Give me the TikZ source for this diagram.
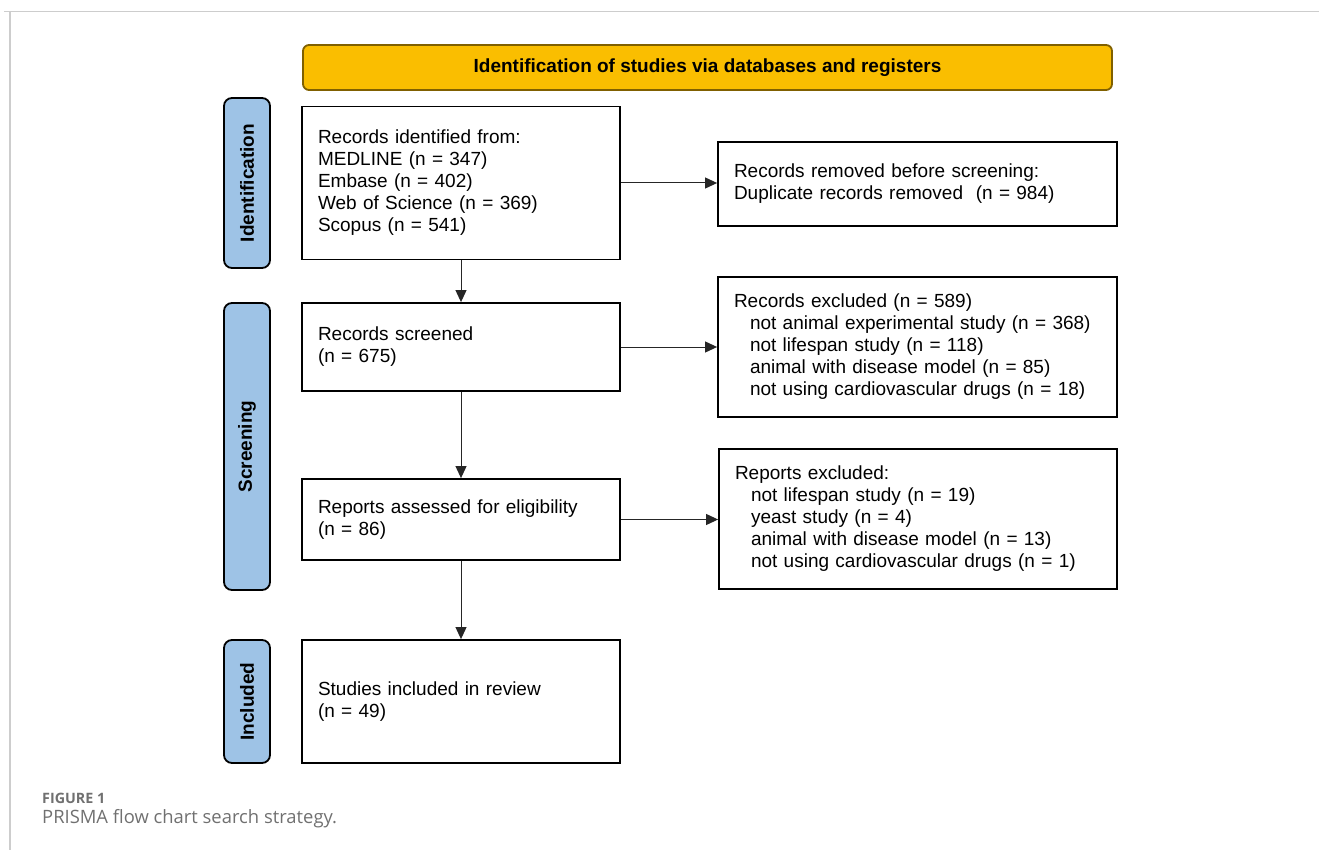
\documentclass[tikz,border=0pt]{standalone}
\usepackage{fontspec}
\setmainfont{Liberation Sans}
\newfontfamily\capfont{Open Sans}
\usetikzlibrary{arrows.meta}
\definecolor{gold}{RGB}{250,190,0}
\definecolor{goldline}{RGB}{128,96,0}
\definecolor{sideblue}{RGB}{158,195,230}
\definecolor{frameline}{RGB}{205,205,205}
\definecolor{capgray}{RGB}{112,112,112}
\tikzset{
  flowbox/.style={draw=black, line width=1.8pt, fill=white, align=left,
    inner xsep=16pt, inner ysep=0pt, font=\fontsize{19}{22}\selectfont},
  sidebox/.style={draw=black, line width=1.8pt, fill=sideblue, rounded corners=8pt,
    rotate=90, inner sep=0pt, minimum height=46pt,
    font=\fontsize{19}{22}\selectfont\bfseries},
  headbox/.style={draw=goldline, line width=1.8pt, fill=gold, rounded corners=6pt,
    inner sep=0pt, font=\fontsize{19}{22}\selectfont\bfseries},
  flowarrow/.style={draw=black!85, line width=1pt, -{Triangle[length=12pt,width=11pt]}},
}
\newcommand{\ind}{\hspace*{16pt}}
\begin{document}
\begin{tikzpicture}[x=1pt,y=-1pt]
\useasboundingbox (0,0) rectangle (1319,850);
% frame lines
\draw[frameline, line width=1.3pt] (4,11.5) -- (1319,11.5);
\draw[frameline, line width=1.3pt] (10,11.5) -- (10,850);

% header
\node[headbox, minimum width=809pt, minimum height=45pt] (head) at (707.5,67.5)
  {Identification of studies via databases and registers};

% side labels
\node[sidebox, minimum width=170pt] (sid) at (247,183) {Identification};
\node[sidebox, minimum width=287pt] (sscr) at (247,446.5) {Screening};
\node[sidebox, minimum width=123pt] (sinc) at (247,701.5) {Included};

% left column
\node[flowbox, minimum width=318pt, minimum height=153pt, text width=286pt] (ident) at (461,183)
  {Records identified from:\\MEDLINE (n = 347)\\Embase (n = 402)\\Web of Science (n = 369)\\Scopus (n = 541)};
\node[flowbox, minimum width=318pt, minimum height=88pt, text width=286pt] (screen) at (461,347)
  {Records screened\\(n = 675)};
\node[flowbox, minimum width=318pt, minimum height=81pt, text width=286pt] (assess) at (461,519.5)
  {Reports assessed for eligibility\\(n = 86)};
\node[flowbox, minimum width=318pt, minimum height=123pt, text width=286pt] (incl) at (461,701.5)
  {Studies included in review\\(n = 49)};

% right column
\node[flowbox, minimum width=399pt, minimum height=84pt, text width=367pt] (removed) at (917.5,184)
  {Records removed before screening:\\Duplicate records removed\ \ (n = 984)};
\node[flowbox, minimum width=399pt, minimum height=140pt, text width=367pt] (excl) at (917.5,347)
  {Records excluded (n = 589)\\\ind not animal experimental study (n = 368)\\\ind not lifespan study (n = 118)\\\ind animal with disease model (n = 85)\\\ind not using cardiovascular drugs (n = 18)};
\node[flowbox, minimum width=398pt, minimum height=140pt, text width=366pt] (repexcl) at (918,519)
  {Reports excluded:\\\ind not lifespan study (n = 19)\\\ind yeast study (n = 4)\\\ind animal with disease model (n = 13)\\\ind not using cardiovascular drugs (n = 1)};

% connectors
\draw[flowarrow] (ident.south) -- (screen.north);
\draw[flowarrow] (screen.south) -- (assess.north);
\draw[flowarrow] (assess.south) -- (incl.north);
\draw[flowarrow] (ident.east) -- (ident.east -| removed.west);
\draw[flowarrow] (screen.east) -- (screen.east -| excl.west);
\draw[flowarrow] (assess.east) -- (assess.east -| repexcl.west);

% caption
\node[anchor=base west, inner sep=0pt, text=capgray, font=\capfont\fontsize{14.3}{16}\selectfont\bfseries] (capA) at (42,803) {FIGURE 1};
\node[anchor=base west, inner sep=0pt, text=capgray, font=\capfont\fontsize{18.4}{20}\selectfont] (capB) at (42,823) {PRISMA flow chart search strategy.};
\end{tikzpicture}
\end{document}
